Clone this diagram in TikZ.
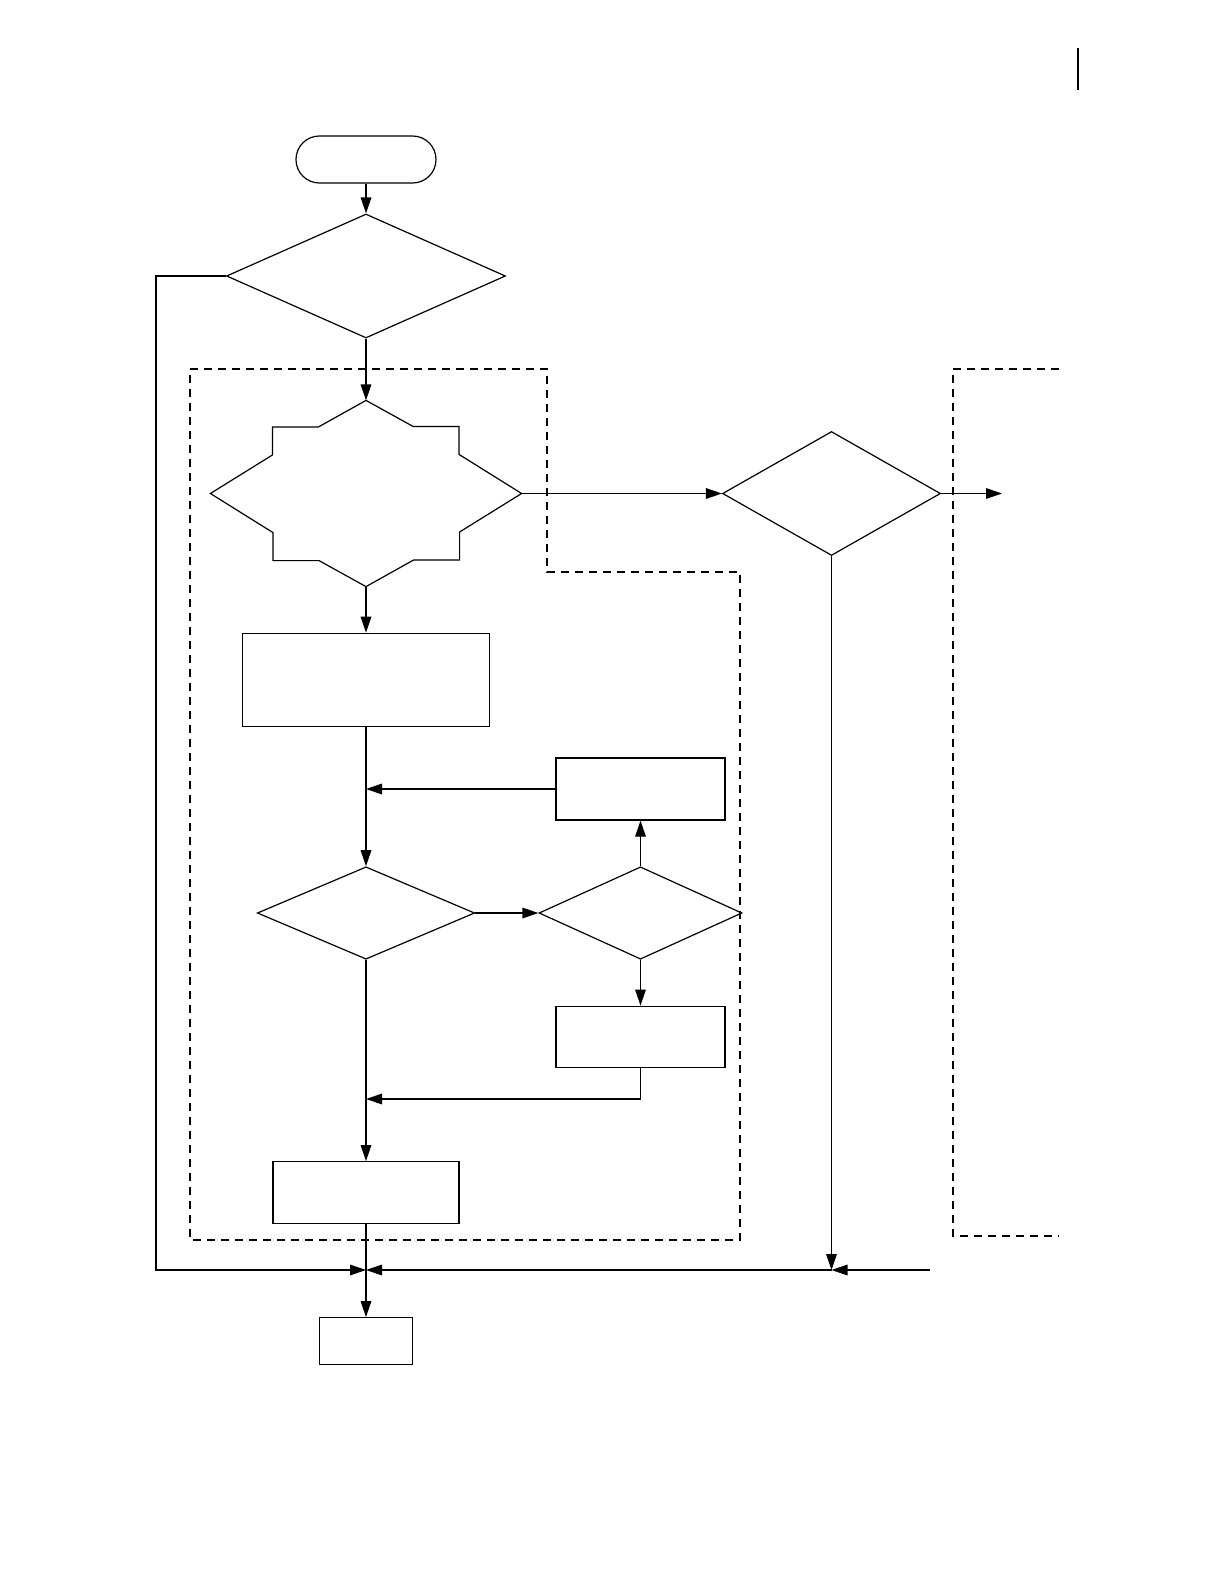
\documentclass[tikz,border=0pt]{standalone}
\usetikzlibrary{arrows.meta,shapes.geometric}

\begin{document}
\begin{tikzpicture}[x=0.5pt, y=-0.5pt, line width=0.6pt,
	>={Triangle[length=8pt,width=5.3pt]},
	decision/.style={diamond, draw, inner sep=0pt},
	process/.style={rectangle, draw, inner sep=0pt},
	terminal/.style={rectangle, draw, inner sep=0pt, rounded corners=11.7pt, minimum width=70pt, minimum height=23.5pt},
	hub/.style={inner sep=0pt, minimum width=155pt, minimum height=92.5pt},
	grp/.style={draw, dash pattern=on 4pt off 3pt}]
	\useasboundingbox (0,0) rectangle (1222,1584);
	\draw[line width=1pt] (1078,48) -- (1078,90);
	% main column
	\node[terminal] (start) at (366,159.5) {};
	\node[decision, minimum width=139.5pt, minimum height=62pt] (dec1) at (366,276) {};
	\node[hub] (star) at (366,493.5) {};
	\draw (star.north) -- ++(47,26) -- ++(46,0) -- ++(0,28) -- (star.east) -- ++(-62,38.5) -- ++(0,28) -- ++(-46,0) -- (star.south) -- ++(-47,-26) -- ++(-46,0) -- ++(0,-28) -- (star.west) -- ++(62,-38.5) -- ++(0,-28) -- ++(46,0) -- cycle;
	\node[process, minimum width=123.8pt, minimum height=46.7pt] (boxA) at (366,680) {};
	\node[decision, minimum width=108.7pt, minimum height=46.2pt] (dec3) at (366,913) {};
	\node[process, minimum width=93pt, minimum height=30.8pt] (boxD) at (366,1192.5) {};
	\node[process, minimum width=46.5pt, minimum height=23.3pt] (finish) at (366,1341) {};
	% side column
	\node[decision, minimum width=101.5pt, minimum height=46.2pt] (dec4) at (640.5,913) {};
	\node[process, minimum width=84.5pt, minimum height=31pt] (boxB) at (640.5,789) {};
	\node[process, minimum width=84.5pt, minimum height=30.8pt] (boxC) at (640.5,1037) {};
	\node[decision, minimum width=109pt, minimum height=62pt] (dec2) at (831.5,493.5) {};
	% free ends and joins
	\coordinate (join) at (366,1270);
	\coordinate (join2) at (831.5,1270);
	\coordinate (lft) at (156,1270);
	\coordinate (inR) at (930,1270);
	\coordinate (out) at (1002,493.5);
	\coordinate (mergeC) at (366,1099);
	% groups
	\draw[grp] (190,369) -- (547,369) -- (547,572) -- (740,572) -- (740,1240) -- (190,1240) -- cycle;
	\draw[grp] (1059,369) -- (953,369) -- (953,1236) -- (1059,1236);
	% connectors
	\draw[->] (start) -- (dec1);
	\draw[->] (dec1) -- (star);
	\draw[->] (star) -- (boxA);
	\draw[->] (boxA) -- (dec3);
	\draw[->] (boxB.west) -- (boxB.west -| dec3.north);
	\draw[->] (dec3) -- (dec4);
	\draw[->] (dec4) -- (boxB);
	\draw[->] (dec4) -- (boxC);
	\draw[->] (boxC.south) |- (mergeC);
	\draw[->] (dec3) -- (boxD);
	\draw[->] (boxD) -- (finish);
	\draw[->] (dec1.west) -| (lft) -- (join);
	\draw[->] (star.east) -- (dec2.west);
	\draw[->] (dec2.east) -- (out);
	\draw[->] (dec2) -- (join2);
	\draw[->] (inR) -- (join2);
	\draw[->] (join2) -- (join);
\end{tikzpicture}
\end{document}
